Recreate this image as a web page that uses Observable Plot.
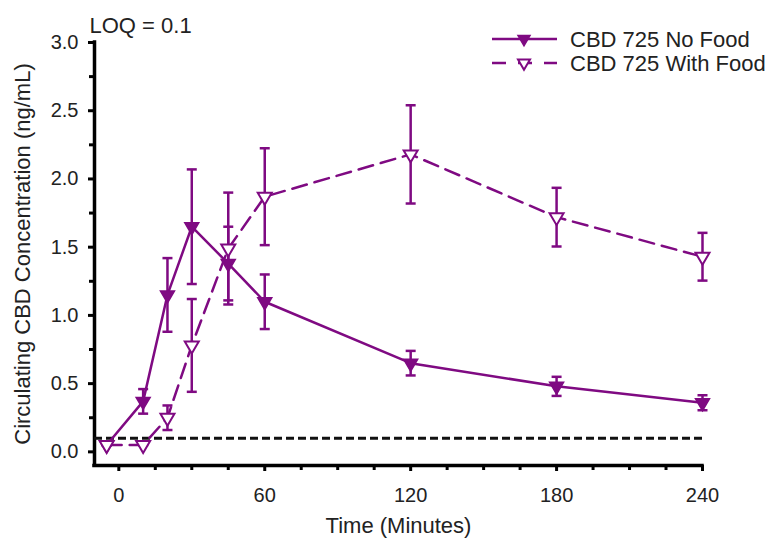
<!DOCTYPE html>
<html><head><meta charset="utf-8">
<script src="https://cdn.jsdelivr.net/npm/d3@7"></script>
<script src="https://cdn.jsdelivr.net/npm/@observablehq/plot@0.6"></script>
<style>
body{margin:0;background:#fff;}
#wrap{position:relative;width:777px;height:545px;font-family:"Liberation Sans",Arial,sans-serif;}
#legend{position:absolute;left:0;top:0;pointer-events:none;}
</style></head><body><div id="wrap"></div>
<script>
// ---- data ----
const times = [-5, 10, 20, 30, 45, 60, 120, 180, 240];
const noFoodMean = [0.05, 0.37, 1.15, 1.65, 1.38, 1.10, 0.65, 0.48, 0.36];
const noFoodSem  = [0, 0.09, 0.27, 0.42, 0.27, 0.20, 0.09, 0.07, 0.055];
const withFoodMean = [0.05, 0.05, 0.25, 0.78, 1.49, 1.87, 2.18, 1.72, 1.43];
const withFoodSem  = [0, 0, 0.09, 0.34, 0.41, 0.355, 0.36, 0.215, 0.175];
const seriesNames = ["CBD 725 No Food", "CBD 725 With Food"];
const loq = 0.1;
const loqLabel = "LOQ = 0.1";
const xTitle = "Time (Minutes)";
const yTitle = "Circulating CBD Concentration (ng/mL)";
const xDomain = [-10, 240];
const yDomain = [-0.1, 3.0];
const xMajorTicks = [0, 60, 120, 180, 240];
const xMinorTicks = [15, 30, 45, 75, 90, 105, 135, 150, 165, 195, 210, 225];
const yMajorTicks = [0, 0.5, 1.0, 1.5, 2.0, 2.5, 3.0];
const yMinorTicks = [0.25, 0.75, 1.25, 1.75, 2.25, 2.75];

const purple = "#7f0a82";
const ink = "#222";
const font = '"Liberation Sans", Arial, sans-serif';

function rows(name, means, sems) {
  return times.map((t, i) => ({series: name, time: t, mean: means[i], lo: means[i] - sems[i], hi: means[i] + sems[i]}));
}
const noFood = rows(seriesNames[0], noFoodMean, noFoodSem);
const withFood = rows(seriesNames[1], withFoodMean, withFoodSem);

const triDown = {draw(ctx, size) {
  const r = Math.sqrt(size / Math.PI);
  ctx.moveTo(-r, -0.57 * r); ctx.lineTo(r, -0.57 * r); ctx.lineTo(0, 1.14 * r); ctx.closePath();
}};
const capSym = {draw(ctx, size) {
  const r = Math.sqrt(size / Math.PI);
  ctx.moveTo(-r, 0); ctx.lineTo(r, 0);
}};

const errMarks = (data) => [
  Plot.ruleX(data, {x: "time", y1: "lo", y2: "hi", stroke: purple, strokeWidth: 2.5}),
  Plot.dot(data, {x: "time", y: "lo", symbol: capSym, r: 5, stroke: purple, strokeWidth: 2.5, fill: "none"}),
  Plot.dot(data, {x: "time", y: "hi", symbol: capSym, r: 5, stroke: purple, strokeWidth: 2.5, fill: "none"})
];

const plot = Plot.plot({
  width: 777, height: 545,
  marginLeft: 94, marginRight: 75, marginTop: 42, marginBottom: 80,
  x: {domain: xDomain},
  y: {domain: yDomain},
  style: {fontFamily: font, fontSize: "20px", color: ink, background: "white", overflow: "visible"},
  marks: [
    Plot.axisX({ticks: xMinorTicks, tickSize: 5, tickFormat: () => "", label: null, strokeWidth: 3, stroke: "#000"}),
    Plot.axisX({ticks: xMajorTicks, tickSize: 6, tickPadding: 16, tickFormat: d => String(d), label: null, strokeWidth: 3, stroke: "#000"}),
    Plot.axisY({ticks: yMinorTicks, tickSize: 5, tickFormat: () => "", label: null, strokeWidth: 3, stroke: "#000"}),
    Plot.axisY({ticks: yMajorTicks, tickSize: 6, tickPadding: 10, tickFormat: d3.format(".1f"), label: null, strokeWidth: 3, stroke: "#000"}),
    Plot.ruleX([xDomain[0]], {y1: yDomain[0], y2: yDomain[1], stroke: "#000", strokeWidth: 3.5, strokeLinecap: "square"}),
    Plot.ruleY([yDomain[0]], {x1: xDomain[0], x2: xDomain[1], stroke: "#000", strokeWidth: 3.5, strokeLinecap: "square"}),
    Plot.ruleY([loq], {x1: xDomain[0], x2: xDomain[1], stroke: "#111", strokeWidth: 3, strokeDasharray: "8,4"}),
    Plot.line(noFood, {x: "time", y: "mean", stroke: purple, strokeWidth: 2.5}),
    Plot.line(withFood, {x: "time", y: "mean", stroke: purple, strokeWidth: 2.5, strokeDasharray: "15,8"}),
    ...errMarks(noFood),
    ...errMarks(withFood),
    Plot.dot(noFood, {x: "time", y: "mean", symbol: triDown, r: 7, fill: purple, stroke: purple, strokeWidth: 1.5}),
    Plot.dot(withFood, {x: "time", y: "mean", symbol: triDown, r: 7, fill: "white", stroke: purple, strokeWidth: 2}),
    Plot.text([yTitle], {text: d => d, frameAnchor: "left", dx: -72, rotate: -90, textAnchor: "middle", fontSize: 22, fill: ink}),
    Plot.text([xTitle], {text: d => d, frameAnchor: "bottom", dy: 67, fontSize: 22, fill: ink}),
    Plot.text([loqLabel], {text: d => d, frameAnchor: "top-left", dx: -5, dy: -25, textAnchor: "start", fontSize: 22, fill: ink})
  ]
});
const wrap = document.getElementById("wrap");
wrap.appendChild(plot);

// legend
const leg = d3.select(wrap).append("svg").attr("id", "legend").attr("width", 777).attr("height", 90);
const legRows = [
  {name: seriesNames[0], y: 39, dash: null, fill: purple},
  {name: seriesNames[1], y: 63, dash: "14,12", fill: "white"}
];
legRows.forEach(r => {
  const g = leg.append("g");
  g.append("line").attr("x1", 492).attr("x2", 557).attr("y1", r.y).attr("y2", r.y)
    .attr("stroke", purple).attr("stroke-width", 2.5).attr("stroke-dasharray", r.dash);
  g.append("path").attr("transform", `translate(524,${r.y})`)
    .attr("d", d3.symbol().type(triDown).size(Math.PI * 36)())
    .attr("fill", r.fill).attr("stroke", purple).attr("stroke-width", r.dash ? 2 : 1.5);
  g.append("text").attr("x", 570).attr("y", r.y).attr("dy", "0.35em")
    .attr("font-family", font).attr("font-size", 22).attr("fill", ink).text(r.name);
});
</script></body></html>
